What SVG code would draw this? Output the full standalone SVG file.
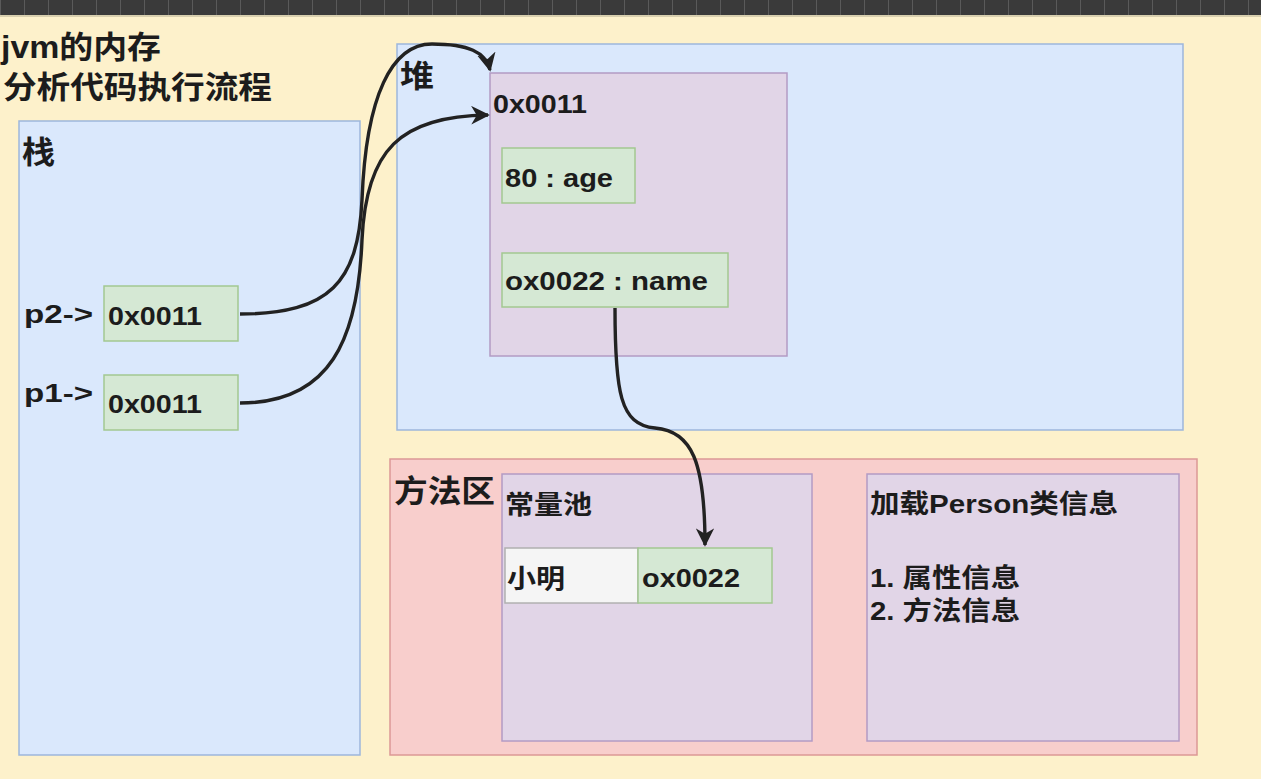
<svg xmlns="http://www.w3.org/2000/svg" width="1261" height="779" viewBox="0 0 1261 779">
<defs>
<style>
.t{font-family:"Liberation Sans","Noto Sans CJK SC",sans-serif;font-weight:bold;fill:#1c1c1c}
.big{font-size:31px}
.med{font-size:26px}
.stack{fill:#dae8fc;stroke:#9db6dc;stroke-width:1.5}
.obj{fill:#e1d5e7;stroke:#b39bc4;stroke-width:1.5}
.green{fill:#d5e8d4;stroke:#a3c891;stroke-width:1.5}
.red{fill:#f8cecc;stroke:#dc9896;stroke-width:1.5}
.white{fill:#f5f5f5;stroke:#b0b0b0;stroke-width:1.5}
.edge{fill:none;stroke:#222;stroke-width:3.4}
</style>
<pattern id="bar" width="24" height="15" patternUnits="userSpaceOnUse">
<rect width="24" height="15" fill="#3a3a3a"/>
<rect x="0" width="1" height="15" fill="#5a5a5a"/>
</pattern>
<marker id="arr" viewBox="0 0 10 10" refX="9" refY="5" markerWidth="5.5" markerHeight="5.5" orient="auto" markerUnits="strokeWidth">
<path d="M0,0 L10,5 L0,10 L3,5 z" fill="#222"/>
</marker>
</defs>
<rect width="1261" height="779" fill="#fdf1cb"/>
<rect width="1261" height="15" fill="url(#bar)"/>
<rect y="15" width="1261" height="2" fill="#d8cfae"/>

<g id="title">
<text class="t big" x="1" y="58" textLength="160" lengthAdjust="spacingAndGlyphs">jvm的内存</text>
<text class="t big" x="3" y="98" textLength="269" lengthAdjust="spacingAndGlyphs">分析代码执行流程</text>
</g>

<g id="stack">
<rect class="stack" x="19" y="121" width="341" height="634"/>
<text class="t big" x="22" y="163" textLength="33" lengthAdjust="spacingAndGlyphs">栈</text>
</g>
<g id="p2">
<text class="t med" x="24" y="323" textLength="69" lengthAdjust="spacingAndGlyphs">p2-&gt;</text>
<rect class="green" x="104" y="286" width="134" height="55"/>
<text class="t med" x="108" y="325" textLength="94" lengthAdjust="spacingAndGlyphs">0x0011</text>
</g>
<g id="p1">
<text class="t med" x="24" y="402" textLength="69" lengthAdjust="spacingAndGlyphs">p1-&gt;</text>
<rect class="green" x="104" y="375" width="134" height="55"/>
<text class="t med" x="108" y="413" textLength="94" lengthAdjust="spacingAndGlyphs">0x0011</text>
</g>

<g id="heap">
<rect class="stack" x="397" y="44" width="786" height="386"/>
<text class="t big" x="400" y="87" textLength="34" lengthAdjust="spacingAndGlyphs">堆</text>
</g>
<g id="object">
<rect class="obj" x="490" y="73" width="297" height="283"/>
<text class="t med" x="493" y="113" textLength="94" lengthAdjust="spacingAndGlyphs">0x0011</text>
</g>
<g id="age">
<rect class="green" x="502" y="148" width="133" height="55"/>
<text class="t med" x="505" y="187" textLength="108" lengthAdjust="spacingAndGlyphs">80 : age</text>
</g>
<g id="name">
<rect class="green" x="502" y="253" width="226" height="54"/>
<text class="t med" x="505" y="290" textLength="203" lengthAdjust="spacingAndGlyphs">ox0022 : name</text>
</g>

<g id="method-area">
<rect class="red" x="390" y="459" width="807" height="296"/>
<text class="t big" x="394" y="502" textLength="101" lengthAdjust="spacingAndGlyphs">方法区</text>
</g>
<g id="constant-pool">
<rect class="obj" x="502" y="474" width="310" height="267"/>
<text class="t med" x="505" y="514" textLength="87" lengthAdjust="spacingAndGlyphs">常量池</text>
</g>
<g id="xiaoming">
<rect class="white" x="505" y="548" width="133" height="55"/>
<text class="t med" x="507" y="588" textLength="58" lengthAdjust="spacingAndGlyphs">小明</text>
</g>
<g id="ox0022">
<rect class="green" x="638" y="548" width="134" height="55"/>
<text class="t med" x="642" y="587" textLength="98" lengthAdjust="spacingAndGlyphs">ox0022</text>
</g>
<g id="person-class">
<rect class="obj" x="867" y="474" width="312" height="267"/>
<text class="t med" x="870" y="513" textLength="248" lengthAdjust="spacingAndGlyphs">加载Person类信息</text>
<text class="t med" x="870" y="587" textLength="150" lengthAdjust="spacingAndGlyphs">1. 属性信息</text>
<text class="t med" x="870" y="620" textLength="150" lengthAdjust="spacingAndGlyphs">2. 方法信息</text>
</g>

<g id="connectors">
<path class="edge" d="M240 314 C 330 314, 358 282, 362 200 C 366 95, 392 44, 432 44 C 468 44, 486 52, 490 70" marker-end="url(#arr)"/>
<path class="edge" d="M240 403 C 330 403, 358 340, 362 240 C 366 150, 400 116, 488 115" marker-end="url(#arr)"/>
<path class="edge" d="M615 308 C 615 392, 620 425, 655 428 C 692 431, 705 462, 705 545" marker-end="url(#arr)"/>
</g>
</svg>
